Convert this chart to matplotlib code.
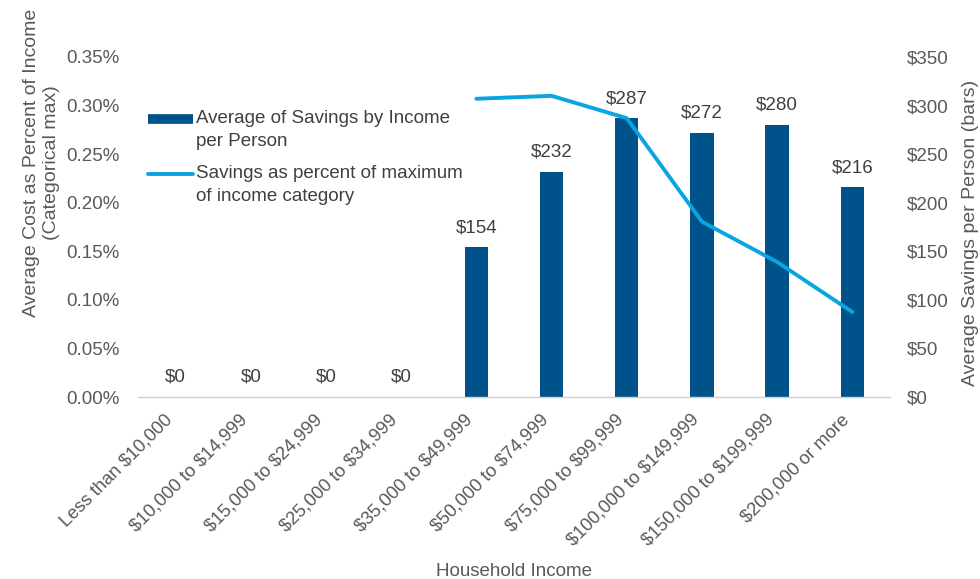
import matplotlib
matplotlib.use("Agg")
import matplotlib.pyplot as plt
from matplotlib.lines import Line2D
from matplotlib.legend_handler import HandlerLine2D
from matplotlib.ticker import FuncFormatter, MultipleLocator
from matplotlib.transforms import ScaledTranslation
import numpy as np

plt.rcParams['font.family'] = ['Liberation Sans', 'DejaVu Sans']
plt.rcParams['text.parse_math'] = False

categories = ["Less than $10,000", "$10,000 to $14,999", "$15,000 to $24,999",
              "$25,000 to $34,999", "$35,000 to $49,999", "$50,000 to $74,999",
              "$75,000 to $99,999", "$100,000 to $149,999", "$150,000 to $199,999",
              "$200,000 or more"]
savings_per_person = [0, 0, 0, 0, 154, 232, 287, 272, 280, 216]
pct_of_max = [np.nan, np.nan, np.nan, np.nan, 0.307, 0.310, 0.287, 0.1805, 0.139, 0.0875]

bar_color = "#00538A"
line_color = "#0AA5E0"
tick_color = "#595959"
label_color = "#404040"
FS = 13.5

fig = plt.figure(figsize=(9.8, 5.79), dpi=100)
ax = fig.add_axes([0.1408, 0.3143, 0.7673, 0.5873])
ax2 = ax.twinx()

x = np.arange(len(categories))
ax2.bar(x, savings_per_person, width=0.31, color=bar_color, zorder=2)
for xi, v in zip(x, savings_per_person):
    ax2.annotate(f"${v:,.0f}", (xi, v), xytext=(0, 8), textcoords="offset points",
                 ha="center", va="bottom", fontsize=FS, color=label_color)

ax.plot(x, pct_of_max, color=line_color, lw=2.8, solid_capstyle="round",
        solid_joinstyle="round", zorder=3)

ax.set_zorder(ax2.get_zorder() + 1)
ax.patch.set_visible(False)

ax.set_xlim(-0.5, len(categories) - 0.5)
ax.set_ylim(0, 0.35)
ax2.set_ylim(0, 350)
ax.yaxis.set_major_locator(MultipleLocator(0.05))
ax2.yaxis.set_major_locator(MultipleLocator(50))
ax.yaxis.set_major_formatter(FuncFormatter(lambda v, p: f"{v:.2f}%"))
ax2.yaxis.set_major_formatter(FuncFormatter(lambda v, p: f"${v:,.0f}"))

ax.set_xticks(x)
ax.set_xticklabels(categories, rotation=45, ha="right", fontsize=13.2, color=tick_color)
for lbl in ax.get_xticklabels():
    lbl.set_transform(lbl.get_transform() + ScaledTranslation(3 / 72, 0, fig.dpi_scale_trans))

for a in (ax, ax2):
    for s in a.spines.values():
        s.set_visible(False)
    a.tick_params(length=0)
ax.spines["bottom"].set_visible(True)
ax.spines["bottom"].set_color("#D0D0D0")
ax.spines["bottom"].set_linewidth(1.0)

ax.tick_params(axis="y", labelsize=FS, labelcolor=tick_color, pad=13)
ax2.tick_params(axis="y", labelsize=FS, labelcolor=tick_color, pad=12)
ax.tick_params(axis="x", pad=10)

ax.set_ylabel("Average Cost as Percent of Income\n(Categorical max)", fontsize=14,
              color=tick_color)
ax.yaxis.set_label_coords(-0.104, 0.688)
ax2.set_ylabel("Average Savings per Person (bars)", fontsize=14, color=tick_color)
ax2.yaxis.set_label_coords(1.0957, 0.482)
ax.set_xlabel("Household Income", fontsize=FS, color=tick_color)
ax.xaxis.set_label_coords(0.5, -0.488)


class TopHandler(HandlerLine2D):
    def create_artists(self, legend, orig_handle, xdescent, ydescent, width, height,
                       fontsize, trans):
        arts = super().create_artists(legend, orig_handle, xdescent, ydescent, width,
                                      height, fontsize, trans)
        for a in arts:
            yd = np.asarray(a.get_ydata(), dtype=float)
            a.set_ydata(yd + 0.6 * fontsize)
        return arts


handles = [Line2D([0], [0], color=bar_color, lw=7, solid_capstyle="butt"),
           Line2D([0], [0], color=line_color, lw=2.8, solid_capstyle="round")]
labels = ["Average of Savings by Income\nper Person",
          "Savings as percent of maximum\nof income category"]
leg = ax.legend(handles, labels, loc="upper left", bbox_to_anchor=(0.013, 0.843),
                frameon=False, fontsize=FS, handlelength=2.4, handletextpad=0.15,
                labelspacing=0.85, borderpad=0, borderaxespad=0,
                handler_map={Line2D: TopHandler()})
for t in leg.get_texts():
    t.set_color(label_color)
    t.set_linespacing(1.4)

fig.savefig("out.png", dpi=100)
